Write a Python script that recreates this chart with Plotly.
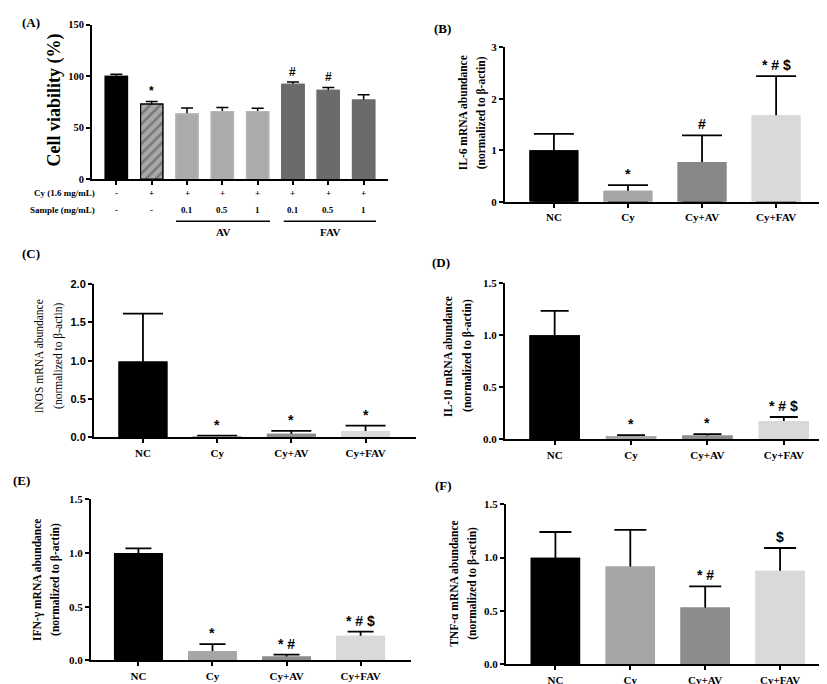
import plotly.graph_objects as go

W, H = 827, 684

# ---------------- data ----------------
# Panel A
a_groups = [0, 1, 2, 3, 4, 5, 6, 7]
a_values = [100.0, 72.9, 63.3, 65.6, 65.6, 92.0, 86.3, 76.7]
a_err = [2.0, 2.6, 5.7, 4.1, 3.2, 2.3, 2.8, 5.2]
a_cy = ["-", "+", "+", "+", "+", "+", "+", "+"]
a_sample = ["-", "-", "0.1", "0.5", "1", "0.1", "0.5", "1"]
a_sig = ["", "*", "", "", "", "#", "#", ""]
a_yticks = [0, 50, 100, 150]

categories = ["NC", "Cy", "Cy+AV", "Cy+FAV"]
il6_values = [1.0, 0.21, 0.77, 1.68]
il6_err = [0.32, 0.11, 0.52, 0.76]
il6_sig = ["", "*", "#", "* # $"]
inos_values = [0.99, 0.01, 0.047, 0.085]
inos_err = [0.625, 0.015, 0.038, 0.069]
inos_sig = ["", "*", "*", "*"]
il10_values = [1.0, 0.032, 0.038, 0.177]
il10_err = [0.235, 0.009, 0.012, 0.038]
il10_sig = ["", "*", "*", "* # $"]
ifn_values = [1.0, 0.088, 0.037, 0.229]
ifn_err = [0.043, 0.064, 0.018, 0.039]
ifn_sig = ["", "*", "* #", "* # $"]
tnf_values = [1.0, 0.918, 0.533, 0.878]
tnf_err = [0.24, 0.342, 0.197, 0.212]
tnf_sig = ["", "", "* #", "$"]

SERIF = "Liberation Serif"
SANS = "Liberation Sans"
ROT_SHIFT = -7  # px correction for rotated titles


def xd(l, r):
    return [l / W, min(r / W, 1.0)]


def yd(top, bottom):
    return [1 - bottom / H, 1 - top / H]


def px_y(py):
    return 1 - py / H


def txt(x, y, text, size, xref="paper", yref="paper", xanchor="center", yanchor="middle",
        family=SERIF, weight="bold", angle=0, yshift=0, xshift=0):
    return dict(x=x, y=y, xref=xref, yref=yref, text=text, showarrow=False, xanchor=xanchor,
                yanchor=yanchor, textangle=angle, yshift=yshift, xshift=xshift,
                font=dict(family=family, size=size, color="black", weight=weight))


fig = go.Figure()
annotations = []
shapes = []

# ---------------- Panel A ----------------
a_colors = ["#000000", "#a8a8a8", "#ababab", "#ababab", "#ababab", "#6b6b6b", "#6b6b6b", "#6b6b6b"]
a_lines = ["#000000", "#000000", "#b8b8b8", "#b8b8b8", "#b8b8b8", "#6b6b6b", "#6b6b6b", "#6b6b6b"]
a_marker = dict(color=a_colors, line=dict(color=a_lines, width=1.2),
                pattern=dict(shape=["", "/", "", "", "", "", "", ""], fgcolor="black",
                             size=7, solidity=0.35))
fig.add_trace(go.Bar(
    x=a_groups, y=a_values, width=0.63, marker=a_marker,
    error_y=dict(type="data", array=a_err, arrayminus=a_values, symmetric=False,
                 color="black", thickness=1.5, width=6),
    xaxis="x", yaxis="y", showlegend=False, hoverinfo="skip"))
fig.add_trace(go.Bar(
    x=a_groups, y=a_values, width=0.63, marker=a_marker,
    xaxis="x", yaxis="y", showlegend=False))

for i, s in enumerate(a_sig):
    if s:
        annotations.append(txt(a_groups[i], a_values[i] + a_err[i], s, 12, xref="x", yref="y",
                               yanchor="bottom", yshift=1, family=SANS))
for i in range(8):
    annotations.append(txt(a_groups[i], px_y(182), a_cy[i], 9, xref="x"))
    annotations.append(txt(a_groups[i], px_y(200), a_sample[i], 9, xref="x"))
annotations.append(txt(89 / W, px_y(182), "Cy (1.6 mg/mL)", 9, xanchor="right"))
annotations.append(txt(89 / W, px_y(200), "Sample (mg/mL)", 9, xanchor="right"))
shapes.append(dict(type="line", xref="x", yref="paper", x0=1.69, x1=4.35, y0=px_y(211), y1=px_y(211),
                   line=dict(color="black", width=1.5)))
shapes.append(dict(type="line", xref="x", yref="paper", x0=4.74, x1=7.35, y0=px_y(211), y1=px_y(211),
                   line=dict(color="black", width=1.5)))
annotations.append(txt(3.02, px_y(222), "AV", 11, xref="x"))
annotations.append(txt(6.05, px_y(222), "FAV", 11, xref="x"))
annotations.append(txt(53 / W, px_y(88), "Cell viability (%)", 18, angle=-90, xshift=ROT_SHIFT))
annotations.append(txt(12 / W, px_y(9), "(A)", 13, xanchor="left"))

axis_common = dict(showline=True, linecolor="black", linewidth=2, ticks="outside", ticklen=4,
                   tickwidth=1.5, tickcolor="black", showgrid=False, zeroline=False, fixedrange=True)

layout = dict(
    width=W, height=H, margin=dict(l=0, r=0, t=0, b=0),
    paper_bgcolor="white", plot_bgcolor="white", barmode="overlay",
    xaxis=dict(domain=xd(84, 380), range=[-0.69, 7.69], tickvals=a_groups, showticklabels=False,
               anchor="y", **axis_common),
    yaxis=dict(domain=yd(11, 168), range=[0, 150], tickvals=a_yticks, anchor="x",
               tickfont=dict(family=SERIF, size=10.5, color="black", weight="bold"), **axis_common),
)

# ---------------- Panels B-F ----------------
panels = [
    dict(n=2, values=il6_values, err=il6_err, sig=il6_sig,
         colors=["#000000", "#a6a6a6", "#878787", "#d9d9d9"],
         xpx=(497, 817), ypx=(34, 191), yr=[0, 3], dtick=1, fmt="d", xr=[-0.66, 3.66], cap=20,
         label="(B)", lpos=(424, 15), t1="IL-6 mRNA abundance", t2="(normalized to β-actin)",
         tx=(462, 480), ty=101, tickfam=SERIF, tw="bold"),
    dict(n=3, values=inos_values, err=inos_err, sig=inos_sig,
         colors=["#000000", "#a6a6a6", "#8c8c8c", "#d9d9d9"],
         xpx=(86, 408), ypx=(275, 431), yr=[0, 2], dtick=0.5, fmt=".1f", xr=[-0.66, 3.68], cap=20,
         label="(C)", lpos=(12, 244), t1="iNOS mRNA abundance", t2="(normalized to β-actin)",
         tx=(38, 58), ty=348, tickfam=SANS, tw="normal"),
    dict(n=4, values=il10_values, err=il10_err, sig=il10_sig,
         colors=["#000000", "#a6a6a6", "#8c8c8c", "#d9d9d9"],
         xpx=(497, 827), ypx=(274, 433), yr=[0, 1.5], dtick=0.5, fmt=".1f", xr=[-0.65, 3.67], cap=14,
         label="(D)", lpos=(422, 253), t1="IL-10 mRNA abundance", t2="(normalized to β-actin)",
         tx=(447, 467), ty=348, tickfam=SERIF, tw="bold"),
    dict(n=5, values=ifn_values, err=ifn_err, sig=ifn_sig,
         colors=["#000000", "#a6a6a6", "#8c8c8c", "#d9d9d9"],
         xpx=(83, 403), ypx=(494, 658), yr=[0, 1.5], dtick=0.5, fmt=".1f", xr=[-0.64, 3.68], cap=13,
         label="(E)", lpos=(3, 475), t1="IFN-γ mRNA abundance", t2="(normalized to β-actin)",
         tx=(37, 55), ty=576, tickfam=SERIF, tw="bold"),
    dict(n=6, values=tnf_values, err=tnf_err, sig=tnf_sig,
         colors=["#000000", "#a6a6a6", "#8c8c8c", "#d9d9d9"],
         xpx=(498, 820), ypx=(499, 662), yr=[0, 1.5], dtick=0.5, fmt=".1f", xr=[-0.66, 3.64], cap=16,
         label="(F)", lpos=(425, 480), t1="TNF-α mRNA abundance", t2="(normalized to β-actin)",
         tx=(453, 472), ty=580, tickfam=SERIF, tw="bold"),
]

for p in panels:
    n = p["n"]
    xa, ya = f"x{n}", f"y{n}"
    mk = dict(color=p["colors"], line=dict(width=0))
    fig.add_trace(go.Bar(
        x=categories, y=p["values"], width=0.66, marker=mk,
        error_y=dict(type="data", array=p["err"], arrayminus=p["values"], symmetric=False,
                     color="black", thickness=1.8, width=p["cap"]),
        xaxis=xa, yaxis=ya, showlegend=False, hoverinfo="skip"))
    fig.add_trace(go.Bar(
        x=categories, y=p["values"], width=0.66, marker=mk,
        xaxis=xa, yaxis=ya, showlegend=False))
    layout[f"xaxis{n}"] = dict(domain=xd(*p["xpx"]), range=p["xr"], anchor=ya,
                               tickfont=dict(family=SERIF, size=11, color="black", weight="bold"),
                               type="category", **axis_common)
    layout[f"yaxis{n}"] = dict(domain=yd(*p["ypx"]), range=p["yr"], dtick=p["dtick"], tick0=0,
                               tickformat=p["fmt"], anchor=xa,
                               tickfont=dict(family=p["tickfam"], size=11, color="black", weight="bold"),
                               **axis_common)
    for i, s in enumerate(p["sig"]):
        if s:
            annotations.append(txt(categories[i], p["values"][i] + p["err"][i], s, 14,
                                   xref=xa, yref=ya, yanchor="bottom", yshift=1, family=SANS))
    annotations.append(txt(p["lpos"][0] / W, px_y(p["lpos"][1]), p["label"], 13, xanchor="left"))
    annotations.append(txt(p["tx"][0] / W, px_y(p["ty"]), p["t1"], 11.5, weight=p["tw"], angle=-90,
                           xshift=ROT_SHIFT))
    annotations.append(txt(p["tx"][1] / W, px_y(p["ty"]), p["t2"], 11.5, weight=p["tw"], angle=-90,
                           xshift=ROT_SHIFT))

layout["annotations"] = annotations
layout["shapes"] = shapes
fig.update_layout(**layout)
fig.write_html("out.html")
